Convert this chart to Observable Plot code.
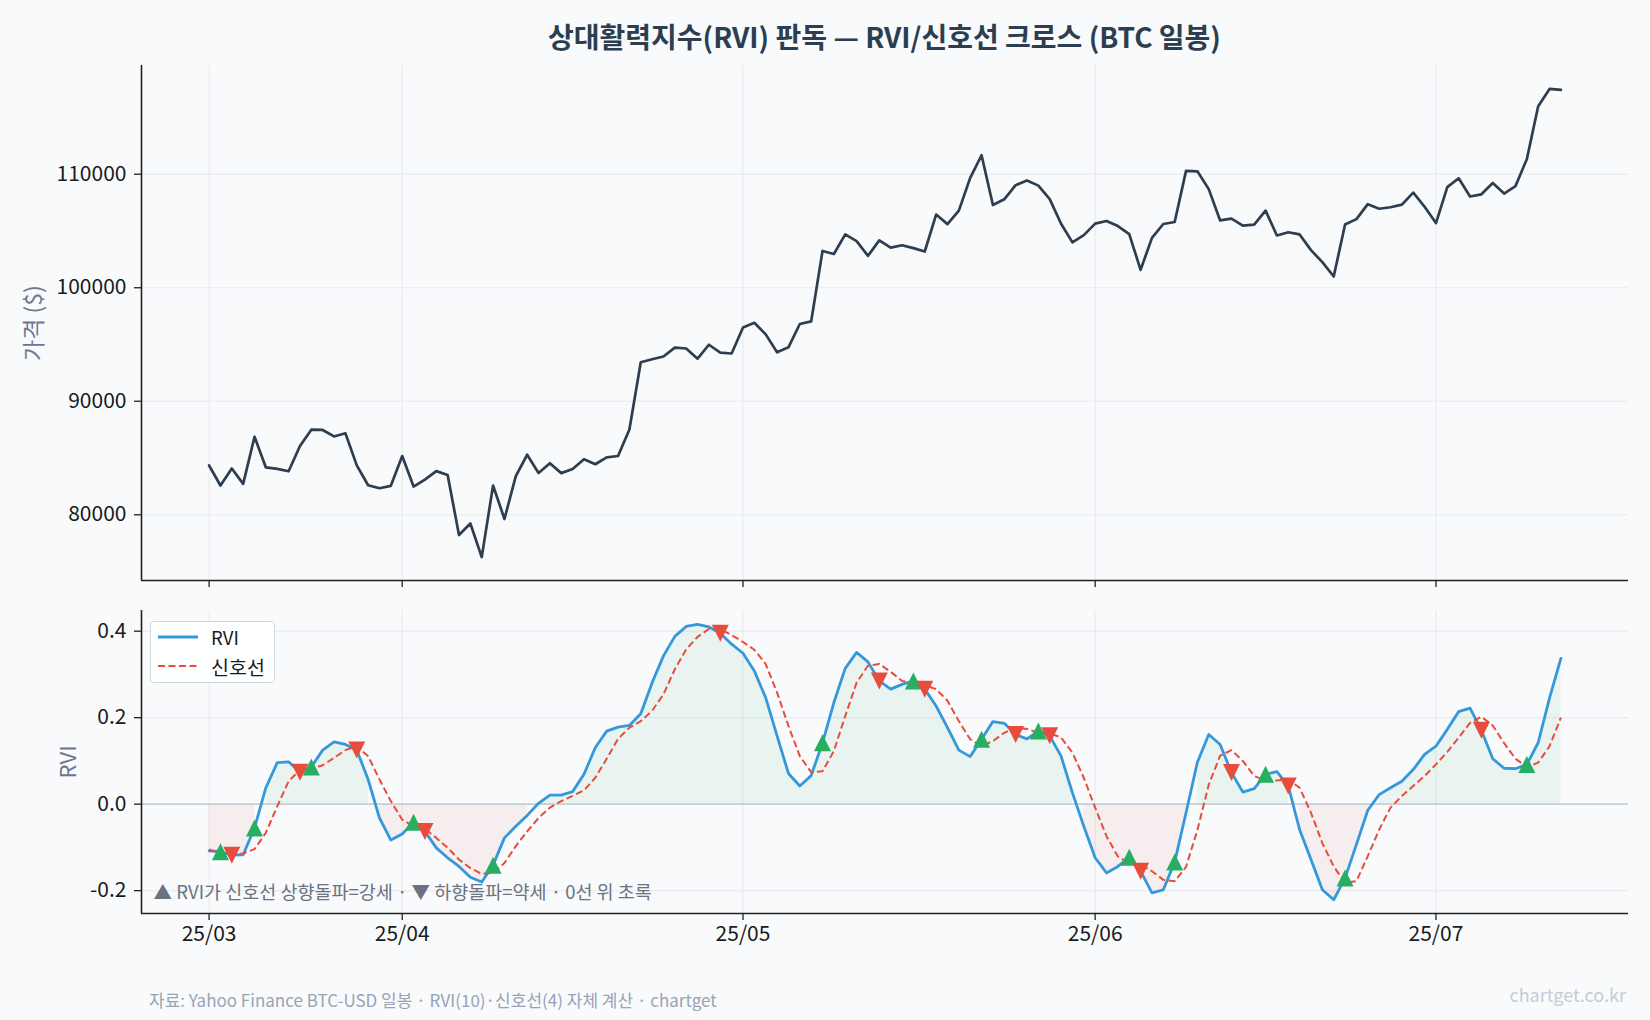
<!DOCTYPE html>
<html>
<head>
<meta charset="utf-8">
<script src="https://cdn.jsdelivr.net/npm/d3@7"></script>
<script src="https://cdn.jsdelivr.net/npm/@observablehq/plot@0.6"></script>
<style>
  html, body { margin: 0; padding: 0; background: #f8fafc; }
  #page { position: relative; width: 1650px; height: 1020px; background: #f8fafc; overflow: hidden;
          font-family: 'Noto Sans CJK KR', 'Noto Sans', sans-serif; }
  .abs { position: absolute; }
  #title { left: 141px; width: 1487px; top: 14px; height: 44px; display: flex; align-items: center; justify-content: center;
           font-weight: 700; font-size: 28px; color: #2c3e50; white-space: nowrap; }
  #top { left: 0; top: 40px; }
  #bottom { left: 0; top: 600px; }
  #legend { left: 150px; top: 621px; width: 125px; height: 62px; box-sizing: border-box; background: rgba(255,255,255,0.85);
            border: 1px solid #d3d6da; border-radius: 4px; font-size: 18.5px; color: #1a1a1a; }
  .lrow { position: absolute; left: 0; height: 24px; display: flex; align-items: center; }
  #footL { left: 149px; top: 987px; height: 24px; display: flex; align-items: center; font-size: 17px; color: #9aa3b4; white-space: nowrap; }
  #footR { right: 24px; top: 982px; height: 24px; display: flex; align-items: center; font-size: 18px; color: #c6ccd6; white-space: nowrap; }
</style>
</head>
<body>
<div id="page">
  <div id="title" class="abs">상대활력지수(RVI) 판독 — RVI/신호선 크로스 (BTC 일봉)</div>
  <div id="top" class="abs"></div>
  <div id="bottom" class="abs"></div>
  <div id="legend" class="abs">
    <div class="lrow" style="top:3px;">
      <svg width="60" height="24" style="margin-left:7px"><line x1="0" y1="12" x2="40" y2="12" stroke="#3498db" stroke-width="2.8"/></svg>
      <span style="margin-left:-7px">RVI</span>
    </div>
    <div class="lrow" style="top:32px;">
      <svg width="60" height="24" style="margin-left:7px"><line x1="0" y1="12" x2="40" y2="12" stroke="#e74c3c" stroke-width="2" stroke-dasharray="7,3.5"/></svg>
      <span style="margin-left:-7px; font-size:19.5px">신호선</span>
    </div>
  </div>
  <div id="footL" class="abs">자료: Yahoo Finance BTC-USD 일봉 · RVI(10)·신호선(4) 자체 계산 · chartget</div>
  <div id="footR" class="abs">chartget.co.kr</div>
</div>
<script>
// ---------------- DATA ----------------
const startDate = "2025-03-15";   // first daily close shown
const price = [
  84343, 82580, 84075, 82719, 86872, 84167, 84043, 83832, 86054, 87498, 87471, 86900, 87177, 84353, 82597, 82334, 82548,
  85169, 82485, 83102, 83843, 83504, 78214, 79235, 76271, 82573, 79626, 83404, 85287, 83684, 84542, 83669, 84033, 84895,
  84450, 85063, 85174, 87518, 93441, 93699, 93943, 94720, 94646, 93754, 94978, 94284, 94207,
  96492, 96910, 95891, 94315, 94749, 96803, 97033, 103242, 102970, 104696, 104106, 102812, 104169, 103539, 103744, 103489,
  103191, 106446, 105606, 106791, 109678, 111673, 107287, 107792, 109035, 109440, 108995, 107802, 105642, 103998, 104638,
  105652, 105882, 105432, 104731, 101576, 104390, 105616, 105794, 110295, 110257, 108686, 105930, 106090, 105473, 105555,
  106795, 104602, 104884, 104695, 103310, 102257, 100988, 105577, 106045, 107361, 106960, 107088, 107327, 108385, 107135,
  105698, 108859, 109647, 108034, 108231, 109232, 108300, 108950, 111327, 115987, 117516, 117435
];
const rvi = [
  -0.108, -0.110, -0.118, -0.117, -0.055, 0.038, 0.096, 0.098, 0.074, 0.086,
   0.125, 0.144, 0.138, 0.125, 0.057, -0.032, -0.083, -0.069, -0.042, -0.063,
  -0.101, -0.124, -0.144, -0.169, -0.180, -0.141, -0.078, -0.051, -0.026, 0.002,
   0.021, 0.021, 0.029, 0.069, 0.131, 0.169, 0.178, 0.182, 0.209, 0.281,
   0.343, 0.388, 0.411, 0.416, 0.410, 0.395, 0.370, 0.349, 0.308, 0.246,
   0.158, 0.071, 0.042, 0.066, 0.142, 0.235, 0.314, 0.351, 0.329, 0.285,
   0.266, 0.277, 0.285, 0.266, 0.227, 0.177, 0.125, 0.110, 0.150, 0.191,
   0.187, 0.161, 0.151, 0.169, 0.158, 0.111, 0.026, -0.051, -0.124, -0.159,
  -0.144, -0.123, -0.155, -0.205, -0.198, -0.134, -0.020, 0.097, 0.161, 0.138,
   0.073, 0.028, 0.036, 0.069, 0.075, 0.042, -0.059, -0.128, -0.198, -0.221,
  -0.171, -0.093, -0.014, 0.022, 0.038, 0.053, 0.080, 0.115, 0.134, 0.173,
   0.214, 0.222, 0.171, 0.105, 0.083, 0.082, 0.092, 0.142, 0.246, 0.337
];
const signal = [
  -0.105, -0.114, -0.116, -0.114, -0.104, -0.066, -0.005, 0.053, 0.079, 0.082,
   0.090, 0.107, 0.125, 0.134, 0.111, 0.057, 0.007, -0.036, -0.051, -0.057,
  -0.078, -0.101, -0.128, -0.148, -0.161, -0.159, -0.136, -0.097, -0.063, -0.032,
  -0.008, 0.007, 0.019, 0.032, 0.061, 0.105, 0.151, 0.177, 0.192, 0.216,
   0.254, 0.312, 0.358, 0.387, 0.405, 0.405, 0.391, 0.375, 0.357, 0.324,
   0.258, 0.181, 0.111, 0.074, 0.076, 0.123, 0.204, 0.281, 0.320, 0.324,
   0.306, 0.285, 0.280, 0.275, 0.266, 0.239, 0.192, 0.150, 0.134, 0.146,
   0.165, 0.177, 0.174, 0.165, 0.164, 0.154, 0.119, 0.061, -0.008, -0.074,
  -0.121, -0.136, -0.140, -0.155, -0.175, -0.178, -0.145, -0.060, 0.045, 0.112,
   0.125, 0.100, 0.065, 0.055, 0.055, 0.057, 0.038, -0.020, -0.090, -0.144,
  -0.182, -0.178, -0.120, -0.059, -0.008, 0.019, 0.042, 0.065, 0.092, 0.121,
   0.154, 0.188, 0.202, 0.182, 0.141, 0.105, 0.086, 0.096, 0.134, 0.200
];
const upCross = [1, 4, 9, 18, 25, 54, 62, 68, 73, 81, 85, 93, 100, 116];     // RVI crosses above signal
const downCross = [2, 8, 13, 19, 45, 59, 63, 71, 74, 82, 90, 95, 112];       // RVI crosses below signal
const tickDates = ["2025-03-15", "2025-04-01", "2025-05-01", "2025-06-01", "2025-07-01"];
const tickLabels = ["25/03", "25/04", "25/05", "25/06", "25/07"];
const priceTicks = [80000, 90000, 100000, 110000];
const rviTicks = [-0.2, 0, 0.2, 0.4];
const rviTickLabels = ["-0.2", "0.0", "0.2", "0.4"];
const noteText = "▲ RVI가 신호선 상향돌파=강세 · ▼ 하향돌파=약세 · 0선 위 초록";

// ---------------- BUILD ----------------
const FONT = "'Noto Sans CJK KR', 'Noto Sans', sans-serif";
const GRID = "#e9ebef";
const AX = "#222";
const TICKFS = 21;
const start = new Date(startDate + "T00:00:00Z");
const rows = price.map((p, i) => ({date: d3.utcDay.offset(start, i), price: p, rvi: rvi[i], signal: signal[i]}));
const tDates = tickDates.map(s => new Date(s + "T00:00:00Z"));
const labelOf = new Map(tDates.map((d, i) => [+d, tickLabels[i]]));

const x0 = rows[0].date, x1 = rows[rows.length - 1].date;
const span = x1 - x0;
const xDomain = [new Date(+x0 - 0.05 * span), new Date(+x1 + 0.05 * span)];
function pad(ext) { const r = ext[1] - ext[0]; return [ext[0] - 0.05 * r, ext[1] + 0.05 * r]; }
const pDomain = pad(d3.extent(price));
const rDomain = pad(d3.extent([...rvi, ...signal]));

const W = 1650, ML = 141, MR = 22;

const upSym = {draw(ctx, size) { const h = Math.sqrt(size / Math.PI); ctx.moveTo(0, -h); ctx.lineTo(h, h); ctx.lineTo(-h, h); ctx.closePath(); }};
const downSym = {draw(ctx, size) { const h = Math.sqrt(size / Math.PI); ctx.moveTo(0, h); ctx.lineTo(h, -h); ctx.lineTo(-h, -h); ctx.closePath(); }};

const topPlot = Plot.plot({
  width: W, height: 560,
  marginTop: 25, marginBottom: 20, marginLeft: ML, marginRight: MR,
  style: {background: "transparent", fontFamily: FONT, fontSize: "20px", color: "#1a1a1a", overflow: "visible"},
  x: {type: "utc", domain: xDomain, axis: null},
  y: {domain: pDomain, axis: null},
  marks: [
    Plot.gridX(tDates, {stroke: GRID, strokeOpacity: 1, strokeWidth: 1.2}),
    Plot.gridY(priceTicks, {stroke: GRID, strokeOpacity: 1, strokeWidth: 1.2}),
    Plot.axisX(tDates, {tickSize: 7, tickFormat: () => "", stroke: AX, strokeWidth: 1.3, label: null}),
    Plot.axisY(priceTicks, {tickSize: 7, tickPadding: 8, tickFormat: d => String(d), stroke: AX, strokeWidth: 1.3, fontSize: TICKFS, label: null}),
    Plot.ruleX([xDomain[0]], {stroke: AX, strokeWidth: 1.6}),
    Plot.ruleY([pDomain[0]], {stroke: AX, strokeWidth: 1.6}),
    Plot.lineY(rows, {x: "date", y: "price", stroke: "#2c3e50", strokeWidth: 2.7, strokeLinejoin: "round"}),
    Plot.text(["가격 ($)"], {frameAnchor: "left", dx: -107, rotate: -90, textAnchor: "middle", lineAnchor: "middle", fill: "#6b7890", fontSize: 23})
  ]
});
document.getElementById("top").appendChild(topPlot);

const bottomPlot = Plot.plot({
  width: W, height: 360,
  marginTop: 10, marginBottom: 47, marginLeft: ML, marginRight: MR,
  style: {background: "transparent", fontFamily: FONT, fontSize: "20px", color: "#1a1a1a", overflow: "visible"},
  x: {type: "utc", domain: xDomain, axis: null},
  y: {domain: rDomain, axis: null},
  marks: [
    Plot.gridX(tDates, {stroke: GRID, strokeOpacity: 1, strokeWidth: 1.2}),
    Plot.gridY(rviTicks, {stroke: GRID, strokeOpacity: 1, strokeWidth: 1.2}),
    Plot.areaY(rows, {x: "date", y1: 0, y2: d => d.rvi >= 0 ? d.rvi : NaN, fill: "#27ae60", fillOpacity: 0.07}),
    Plot.areaY(rows, {x: "date", y1: 0, y2: d => d.rvi < 0 ? d.rvi : NaN, fill: "#e74c3c", fillOpacity: 0.07}),
    Plot.ruleY([0], {stroke: "#c9ced6", strokeWidth: 1.6}),
    Plot.axisX(tDates, {tickSize: 7, tickPadding: 6, tickFormat: d => labelOf.get(+d), stroke: AX, strokeWidth: 1.3, fontSize: TICKFS, label: null}),
    Plot.axisY(rviTicks, {tickSize: 7, tickPadding: 8, tickFormat: d => rviTickLabels[rviTicks.indexOf(d)], stroke: AX, strokeWidth: 1.3, fontSize: TICKFS, label: null}),
    Plot.ruleX([xDomain[0]], {stroke: AX, strokeWidth: 1.6}),
    Plot.ruleY([rDomain[0]], {stroke: AX, strokeWidth: 1.6}),
    Plot.lineY(rows, {x: "date", y: "rvi", stroke: "#3498db", strokeWidth: 2.8, strokeLinejoin: "round"}),
    Plot.lineY(rows, {x: "date", y: "signal", stroke: "#e74c3c", strokeWidth: 2, strokeDasharray: "7,3.5", strokeLinecap: "butt"}),
    Plot.dot(upCross.map(i => rows[i]), {x: "date", y: "rvi", symbol: upSym, r: 8.5, fill: "#27ae60", stroke: "none"}),
    Plot.dot(downCross.map(i => rows[i]), {x: "date", y: "rvi", symbol: downSym, r: 8.5, fill: "#e74c3c", stroke: "none"}),
    Plot.text([noteText], {frameAnchor: "bottom-left", dx: 12, dy: -20, textAnchor: "start", lineAnchor: "middle", fill: "#6b7280", fontSize: 18.5}),
    Plot.text(["RVI"], {frameAnchor: "left", dx: -73, rotate: -90, textAnchor: "middle", lineAnchor: "middle", fill: "#6b7890", fontSize: 22})
  ]
});
document.getElementById("bottom").appendChild(bottomPlot);
</script>
</body>
</html>
